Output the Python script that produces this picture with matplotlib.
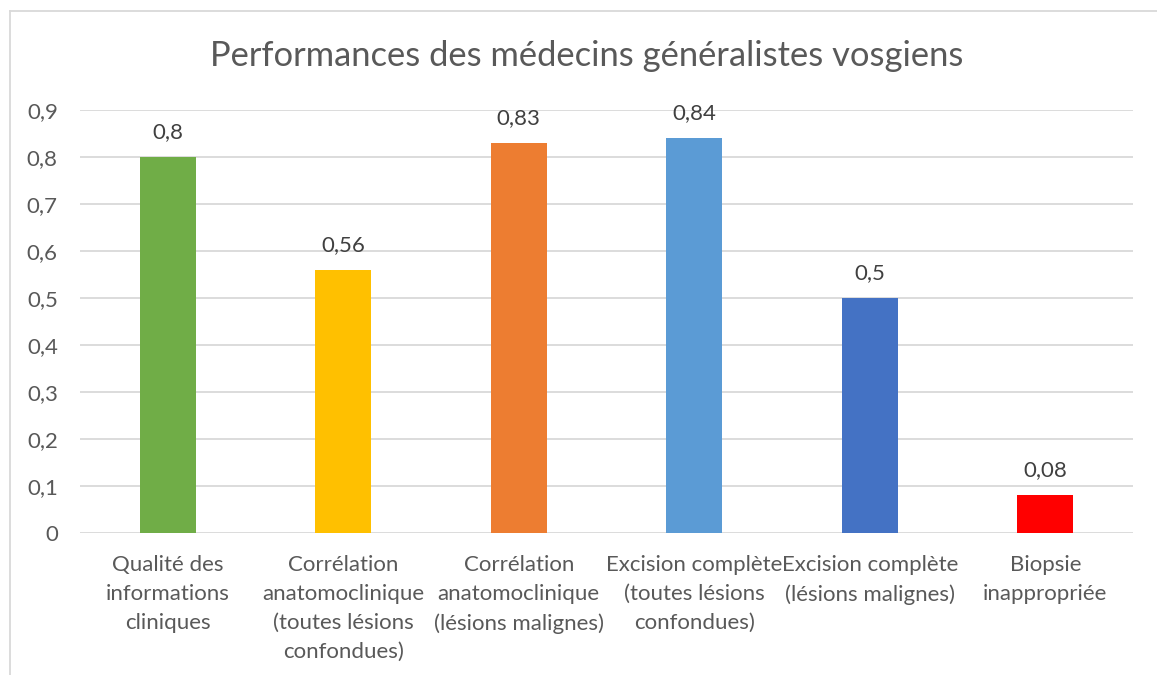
import matplotlib
matplotlib.use("Agg")
import matplotlib.pyplot as plt
from matplotlib.lines import Line2D

categories = [
    "Qualité des\ninformations\ncliniques",
    "Corrélation\nanatomoclinique\n(toutes lésions\nconfondues)",
    "Corrélation\nanatomoclinique\n(lésions malignes)",
    "Excision complète\n(toutes lésions\nconfondues)",
    "Excision complète\n(lésions malignes)",
    "Biopsie\ninappropriée",
]
values = [0.8, 0.56, 0.83, 0.84, 0.5, 0.08]
value_labels = ["0,8", "0,56", "0,83", "0,84", "0,5", "0,08"]
colors = ["#70AD47", "#FFC000", "#ED7D31", "#5B9BD5", "#4472C4", "#FF0000"]
yticks = [0, 0.1, 0.2, 0.3, 0.4, 0.5, 0.6, 0.7, 0.8, 0.9]
ytick_labels = ["0", "0,1", "0,2", "0,3", "0,4", "0,5", "0,6", "0,7", "0,8", "0,9"]
title = "Performances des médecins généralistes vosgiens"

plt.rcParams['font.family'] = ['Lato', 'DejaVu Sans']
txt = "#595959"

W, H = 1157, 675
fig = plt.figure(figsize=(W / 100, H / 100), dpi=100)
ax = fig.add_axes([80 / W, 1 - 533 / H, (1133 - 80) / W, (533 - 110) / H])

x = list(range(len(categories)))
ax.bar(x, values, width=0.32, color=colors, zorder=3)
for xi, v, lab in zip(x, values, value_labels):
    ax.text(xi, v + 0.032, lab, ha="center", va="bottom", fontsize=16, color="#404040")

ax.set_xlim(-0.5, len(categories) - 0.5)
ax.set_ylim(0, 0.9)
ax.set_yticks(yticks)
ax.set_yticklabels(ytick_labels, fontsize=16, color=txt)
ax.set_xticks(x)
ax.set_xticklabels(categories, fontsize=16, color=txt, linespacing=1.55)
ax.tick_params(axis="both", length=0)
ax.tick_params(axis="y", pad=16)
ax.tick_params(axis="x", pad=16)
ax.grid(axis="y", color="#D9D9D9", linewidth=1.3, zorder=0)
for s in ax.spines.values():
    s.set_visible(False)

fig.text(587 / W, 1 - 56 / H, title, ha="center", va="center", fontsize=24.8, color=txt)

# outer frame (top and left)
fig.add_artist(Line2D([10 / W, 1.0], [1 - 11 / H, 1 - 11 / H], color="#D9D9D9", lw=1.3, transform=fig.transFigure))
fig.add_artist(Line2D([10 / W, 10 / W], [0, 1 - 11 / H], color="#D9D9D9", lw=1.3, transform=fig.transFigure))

fig.savefig("out.png", dpi=100)
